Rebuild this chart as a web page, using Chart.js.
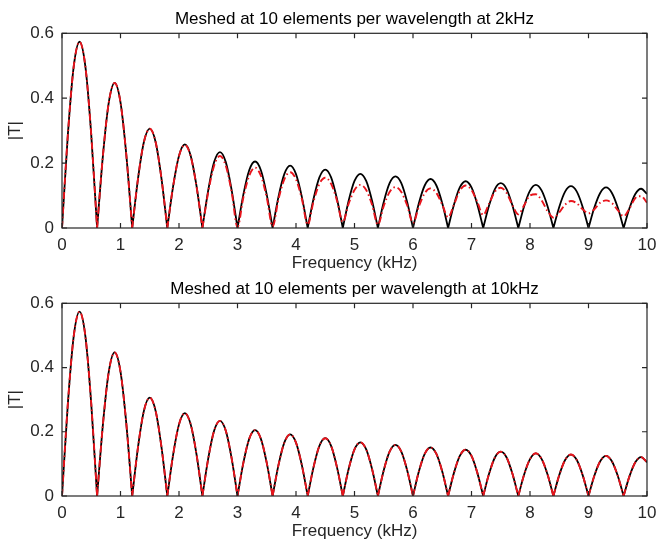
<!DOCTYPE html>
<html>
<head>
<meta charset="utf-8">
<script src="https://cdn.jsdelivr.net/npm/chart.js@4"></script>
<style>
  html, body { margin: 0; padding: 0; background: #fff; }
  #wrap { position: relative; width: 656px; height: 541px; overflow: hidden; }
  canvas { position: absolute; left: 0; }
  #c1 { top: 0; }
  #c2 { top: 270px; }
</style>
</head>
<body>
<div id="wrap">
  <canvas id="c1" width="656" height="273"></canvas>
  <canvas id="c2" width="656" height="271"></canvas>
</div>
<script>
// Frequency samples (kHz)
const freq = [
  0.0, 0.1, 0.2, 0.3, 0.4, 0.5, 0.6, 0.7, 0.8, 0.9,
  1.0, 1.1, 1.2, 1.3, 1.4, 1.5, 1.6, 1.7, 1.8, 1.9,
  2.0, 2.1, 2.2, 2.3, 2.4, 2.5, 2.6, 2.7, 2.8, 2.9,
  3.0, 3.1, 3.2, 3.3, 3.4, 3.5, 3.6, 3.7, 3.8, 3.9,
  4.0, 4.1, 4.2, 4.3, 4.4, 4.5, 4.6, 4.7, 4.8, 4.9,
  5.0, 5.1, 5.2, 5.3, 5.4, 5.5, 5.6, 5.7, 5.8, 5.9,
  6.0, 6.1, 6.2, 6.3, 6.4, 6.5, 6.6, 6.7, 6.8, 6.9,
  7.0, 7.1, 7.2, 7.3, 7.4, 7.5, 7.6, 7.7, 7.8, 7.9,
  8.0, 8.1, 8.2, 8.3, 8.4, 8.5, 8.6, 8.7, 8.8, 8.9,
  9.0, 9.1, 9.2, 9.3, 9.4, 9.5, 9.6, 9.7, 9.8, 9.9,
  10.0
];

// Analytical transmission |T|
const exactT = [
  0, 0.287, 0.497, 0.574, 0.497, 0.287,
  0, 0.224, 0.387, 0.447, 0.387, 0.224,
  0, 0.153, 0.265, 0.306, 0.265, 0.153,
  0, 0.129, 0.223, 0.258, 0.223, 0.129,
  0, 0.117, 0.203, 0.234, 0.203, 0.117,
  0, 0.103, 0.178, 0.205, 0.178, 0.103,
  0, 0.096, 0.166, 0.192, 0.166, 0.096,
  0, 0.090, 0.156, 0.180, 0.156, 0.090,
  0, 0.084, 0.145, 0.167, 0.145, 0.084,
  0, 0.080, 0.138, 0.159, 0.138, 0.080,
  0, 0.076, 0.131, 0.151, 0.131, 0.076,
  0, 0.072, 0.125, 0.144, 0.125, 0.072,
  0, 0.069, 0.120, 0.138, 0.120, 0.069,
  0, 0.067, 0.115, 0.133, 0.115, 0.067,
  0, 0.065, 0.112, 0.129, 0.112, 0.065,
  0, 0.063, 0.108, 0.125, 0.108, 0.063,
  0, 0.061, 0.105, 0.121, 0.105
];

// Numerical |T|, mesh sized for 2 kHz
const mesh2k = [
  0, 0.287, 0.497, 0.574, 0.497, 0.287,
  0, 0.224, 0.387, 0.447, 0.387, 0.224,
  0, 0.153, 0.265, 0.306, 0.265, 0.153,
  0, 0.129, 0.222, 0.256, 0.221, 0.127,
  0, 0.111, 0.192, 0.222, 0.192, 0.111,
  0.003, 0.094, 0.161, 0.186, 0.161, 0.094,
  0.005, 0.088, 0.150, 0.172, 0.150, 0.090,
  0.010, 0.082, 0.136, 0.155, 0.136, 0.085,
  0.018, 0.075, 0.117, 0.133, 0.117, 0.072,
  0.010, 0.068, 0.111, 0.126, 0.111, 0.070,
  0.015, 0.066, 0.107, 0.122, 0.108, 0.072,
  0.033, 0.072, 0.115, 0.131, 0.117, 0.080,
  0.040, 0.075, 0.112, 0.124, 0.108, 0.070,
  0.042, 0.070, 0.100, 0.104, 0.085, 0.052,
  0.032, 0.048, 0.072, 0.083, 0.076, 0.058,
  0.045, 0.058, 0.078, 0.085, 0.077, 0.055,
  0.036, 0.060, 0.092, 0.098, 0.078
];

// Numerical |T|, mesh sized for 10 kHz
const mesh10k = [
  0, 0.287, 0.497, 0.574, 0.497, 0.287,
  0, 0.224, 0.387, 0.447, 0.387, 0.224,
  0, 0.153, 0.265, 0.306, 0.265, 0.153,
  0, 0.129, 0.223, 0.258, 0.223, 0.129,
  0, 0.117, 0.203, 0.234, 0.203, 0.117,
  0, 0.103, 0.178, 0.205, 0.178, 0.103,
  0, 0.096, 0.166, 0.192, 0.166, 0.096,
  0, 0.090, 0.156, 0.180, 0.156, 0.090,
  0, 0.084, 0.145, 0.167, 0.145, 0.084,
  0, 0.080, 0.138, 0.159, 0.138, 0.080,
  0, 0.076, 0.131, 0.151, 0.131, 0.076,
  0, 0.072, 0.125, 0.144, 0.125, 0.072,
  0, 0.069, 0.120, 0.138, 0.120, 0.069,
  0, 0.067, 0.115, 0.133, 0.115, 0.067,
  0, 0.065, 0.112, 0.129, 0.112, 0.065,
  0, 0.063, 0.108, 0.125, 0.108, 0.063,
  0, 0.061, 0.105, 0.121, 0.105
];

const xTicks = [0, 1, 2, 3, 4, 5, 6, 7, 8, 9, 10];
const yTicks = [0, 0.2, 0.4, 0.6];

const AXIS = '#262626';
const FONT = "'Liberation Sans', Arial, Helvetica, sans-serif";
const FS = 17;
Chart.defaults.font.family = FONT;

// Turn samples into points; interior zeros get a break so the
// curve keeps its sharp notch instead of being smoothed through it.
function toPoints(values) {
  const pts = [];
  values.forEach((v, i) => {
    pts.push({ x: freq[i], y: v });
    if (v === 0 && i > 0 && i < values.length - 1) {
      pts.push({ x: freq[i], y: null });
      pts.push({ x: freq[i], y: v });
    }
  });
  return pts;
}

// Box around the axes with inward tick marks on all four sides
const boxPlugin = {
  id: 'axesBox',
  afterDraw(chart) {
    const { ctx, chartArea: a, scales: { x, y } } = chart;
    const len = 5;
    ctx.save();
    ctx.strokeStyle = AXIS;
    ctx.lineWidth = 1.2;
    ctx.beginPath();
    x.ticks.forEach(t => {
      const px = x.getPixelForValue(t.value);
      ctx.moveTo(px, a.bottom); ctx.lineTo(px, a.bottom - len);
      ctx.moveTo(px, a.top); ctx.lineTo(px, a.top + len);
    });
    y.ticks.forEach(t => {
      const py = y.getPixelForValue(t.value);
      ctx.moveTo(a.left, py); ctx.lineTo(a.left + len, py);
      ctx.moveTo(a.right, py); ctx.lineTo(a.right - len, py);
    });
    ctx.stroke();
    ctx.strokeRect(a.left, a.top, a.right - a.left, a.bottom - a.top);
    ctx.restore();
  }
};

function makeChart(id, title, reference, numeric, cfg) {
  const lineCommon = {
    pointRadius: 0,
    cubicInterpolationMode: 'monotone',
    tension: 0.4,
    fill: false,
    spanGaps: false
  };
  const half = FS * 1.2 / 2;
  return new Chart(document.getElementById(id), {
    type: 'line',
    data: {
      datasets: [
        Object.assign({
          label: 'Analytical',
          data: toPoints(reference),
          borderColor: '#000000',
          borderWidth: 1.8,
          order: 2
        }, lineCommon),
        Object.assign({
          label: 'Numerical',
          data: toPoints(numeric),
          borderColor: '#e8141c',
          borderWidth: 1.9,
          borderDash: [7, 3, 1.5, 3],
          order: 1
        }, lineCommon)
      ]
    },
    options: {
      responsive: false,
      animation: false,
      events: [],
      layout: { padding: { left: 0, right: 9, top: 0, bottom: 0 } },
      plugins: {
        legend: { display: false },
        tooltip: { enabled: false },
        title: {
          display: true,
          text: title,
          fullSize: false,
          color: '#000000',
          font: { size: FS, weight: 'normal', lineHeight: 1.2 },
          padding: { top: cfg.titleCenter - half, bottom: cfg.areaTop - cfg.titleCenter - half }
        }
      },
      scales: {
        x: {
          type: 'linear',
          min: 0,
          max: 10,
          grid: { display: false, drawTicks: false },
          border: { display: false },
          afterBuildTicks: s => { s.ticks = xTicks.map(v => ({ value: v })); },
          afterFit: s => {
            s.height = cfg.height - cfg.areaBottom;
            s.paddingLeft = 0;
            s.paddingRight = 0;
          },
          ticks: {
            color: AXIS,
            font: { size: FS },
            padding: 7,
            maxRotation: 0,
            autoSkip: false,
            callback: v => String(v)
          },
          title: {
            display: true,
            text: 'Frequency (kHz)',
            color: AXIS,
            font: { size: FS, lineHeight: 1.2 },
            padding: { top: 0, bottom: cfg.height - cfg.areaBottom - 35 - half }
          }
        },
        y: {
          type: 'linear',
          min: 0,
          max: 0.6,
          grid: { display: false, drawTicks: false },
          border: { display: false },
          afterBuildTicks: s => { s.ticks = yTicks.map(v => ({ value: v })); },
          afterFit: s => {
            s.width = 62;
            s.paddingTop = 0;
            s.paddingBottom = 0;
          },
          ticks: {
            color: AXIS,
            font: { size: FS },
            padding: 8,
            autoSkip: false,
            callback: v => String(Math.round(v * 10) / 10)
          },
          title: {
            display: true,
            text: '|T|',
            color: AXIS,
            font: { size: FS, lineHeight: 1.2 },
            padding: { top: 15 - half, bottom: 0 }
          }
        }
      }
    },
    plugins: [boxPlugin]
  });
}

makeChart('c1', 'Meshed at 10 elements per wavelength at 2kHz', exactT, mesh2k,
  { height: 273, titleCenter: 19.2, areaTop: 33.3, areaBottom: 228 });
makeChart('c2', 'Meshed at 10 elements per wavelength at 10kHz', exactT, mesh10k,
  { height: 271, titleCenter: 19.2, areaTop: 33.3, areaBottom: 226 });
</script>
</body>
</html>
